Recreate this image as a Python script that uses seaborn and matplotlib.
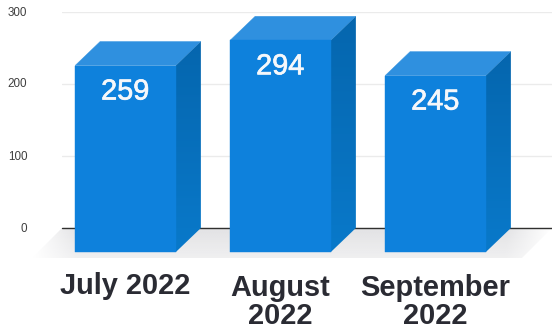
import matplotlib
matplotlib.use("Agg")
import matplotlib.pyplot as plt
import seaborn as sns
import numpy as np
import pandas as pd
from matplotlib.colors import LinearSegmentedColormap, to_rgb
from matplotlib.patches import Polygon
from matplotlib.transforms import ScaledTranslation, IdentityTransform
import matplotlib.patheffects as pe

months = ["July 2022", "August\n2022", "September\n2022"]
counts = [259, 294, 245]
y_ticks = [0, 100, 200, 300]

FRONT = "#0e81dc"
TOP = "#2f90df"
SIDE_DARK = "#0566ae"
SIDE_LIGHT = "#0979ca"
FLOOR = "#e3e3e5"
DX_PX, DY_PX = 25, 24  # depth of the extruded boxes, in pixels

sns.set_theme(style="white")
plt.rcParams["font.family"] = ["Liberation Sans", "DejaVu Sans"]

fig = plt.figure(figsize=(5.52, 3.32), dpi=100, facecolor="white")
ax = fig.add_axes([62 / 552, (332 - 228) / 332, 490 / 552, 216 / 332])
ax.set_facecolor("none")

df = pd.DataFrame({"month": months, "count": counts})
sns.barplot(data=df, x="month", y="count", color=FRONT, saturation=1,
            width=0.65, ax=ax, zorder=3)

xlim = ((62 - 150.5) / 155, (552 - 150.5) / 155)
ax.set_xlim(*xlim)
ax.set_ylim(0, 300)
ax.set_xlabel("")
ax.set_ylabel("")
ax.set_xticks([])
ax.set_yticks(y_ticks)
ax.tick_params(axis="y", length=0, pad=25, labelsize=8.4, labelcolor="#3f3f3f")
sns.despine(ax=ax, left=True, bottom=True, top=True, right=True)
ax.grid(axis="y", color="#ebebeb", linewidth=1.0)
ax.set_axisbelow(True)
tick_nudge = ScaledTranslation(0, 0.01, fig.dpi_scale_trans)
for label in ax.get_yticklabels():
    label.set_transform(label.get_transform() + tick_nudge)

fig.canvas.draw()
to_px = ax.transData
front_offset = ScaledTranslation(-DX_PX / 100, -DY_PX / 100, fig.dpi_scale_trans)
px = IdentityTransform()


def add_face(points, color, z):
    ax.add_patch(Polygon(points, closed=True, facecolor=color, edgecolor=color,
                         linewidth=0.3, transform=px, clip_on=False, zorder=z))


def add_gradient_face(points, rgba, z):
    """Fill a polygon in pixel space with an RGBA image stretched over its bounds."""
    pts = np.array(points)
    extent = (pts[:, 0].min(), pts[:, 0].max(), pts[:, 1].min(), pts[:, 1].max())
    outline = Polygon(points, closed=True, transform=px, facecolor="none", edgecolor="none")
    ax.add_patch(outline)
    img = ax.imshow(rgba, origin="lower", extent=extent, transform=px, aspect="auto",
                    interpolation="bilinear", zorder=z)
    img.set_clip_box(fig.bbox)
    img.set_clip_path(outline)


side_cmap = LinearSegmentedColormap.from_list("side", [SIDE_LIGHT, SIDE_DARK])

for bar, month, count in zip(ax.patches, months, counts):
    x0, x1 = bar.get_x(), bar.get_x() + bar.get_width()
    (br_x, br_y) = to_px.transform((x1, 0))
    (tr_x, tr_y) = to_px.transform((x1, bar.get_height()))
    (tl_x, tl_y) = to_px.transform((x0, bar.get_height()))
    add_face([(tl_x, tl_y), (tr_x, tr_y), (tr_x - DX_PX, tr_y - DY_PX),
              (tl_x - DX_PX, tl_y - DY_PX)], TOP, 2)
    side_shade = side_cmap(np.linspace(0, 1, 64)[:, None])
    add_gradient_face([(tr_x, tr_y), (br_x, br_y), (br_x - DX_PX, br_y - DY_PX),
                       (tr_x - DX_PX, tr_y - DY_PX)], side_shade, 2)
    bar.set_transform(ax.transData + front_offset)
    bar.set_clip_on(False)
    bar.set_edgecolor(FRONT)
    bar.set_linewidth(0.3)

    cx = (x0 + x1) / 2
    # Value printed inside the front face, just below its top edge.
    ax.annotate(str(count), (cx, count), xycoords="data",
                xytext=(-DX_PX * 0.72 - 0.2, -(DY_PX + 26) * 0.72), textcoords="offset points",
                ha="center", va="center", color="#f6f8fb", fontsize=20.8,
                annotation_clip=False, zorder=5,
                path_effects=[pe.withStroke(linewidth=0.5, foreground="#f6f8fb")])
    # Month label beneath the front face.
    label_drop = 43.5 if "\n" not in month else 46
    ax.annotate(month, (cx, 0), xycoords="data",
                xytext=(-DX_PX * 0.72, -label_drop * 0.72), textcoords="offset points",
                ha="center", va="top", color="#2a2b33", fontsize=20.9,
                fontweight="bold", linespacing=1.0, annotation_clip=False, zorder=5)

# Grey floor in front of the back wall, fading out at both tips and towards the viewer.
(left_x, base_y) = to_px.transform((xlim[0], 0))
(right_x, _) = to_px.transform((xlim[1], 0))
floor_pts = [(left_x, base_y), (right_x, base_y), (right_x - 30, base_y - 30),
             (left_x - 30, base_y - 30)]
w = np.linspace(left_x - 30, right_x, 260)
h = np.linspace(base_y - 30, base_y, 32)
fade_x = np.clip((w - (left_x - 30)) / 45, 0, 1) * np.clip((right_x - w) / 45, 0, 1)
fade_y = 0.55 + 0.45 * (h - h[0]) / (h[-1] - h[0])
floor_rgba = np.ones((h.size, w.size, 4))
floor_rgba[..., :3] = to_rgb(FLOOR)
floor_rgba[..., 3] = fade_y[:, None] * fade_x[None, :]
add_gradient_face(floor_pts, floor_rgba, 0.5)
ax.axhline(0, color="#30302f", linewidth=1.0, zorder=1, clip_on=False)

ax.set_xlim(*xlim)
ax.set_ylim(0, 300)
ax.set_aspect("auto")

fig.savefig("out.png", dpi=100, facecolor="white")
